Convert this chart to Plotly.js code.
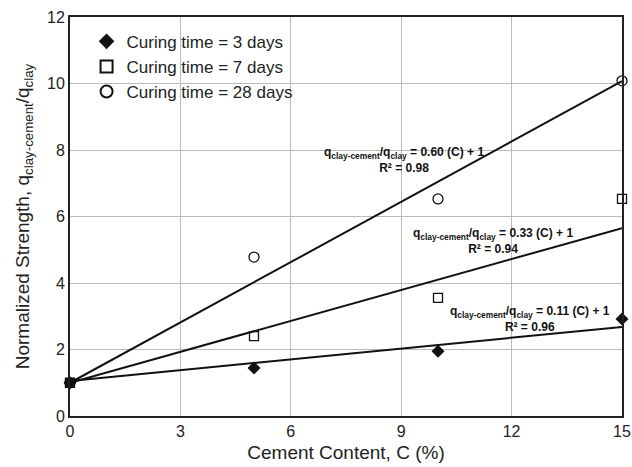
<!DOCTYPE html>
<html><head><script src="https://cdn.plot.ly/plotly-3.0.1.min.js"></script>
<style>body{margin:0;background:#fff}</style></head>
<body><div id="c" style="width:632px;height:467px"></div>
<script>
const cement = [0, 5, 10, 15];
const day3 = [1.0, 1.44, 1.95, 2.92];
const day7 = [1.0, 2.4, 3.55, 6.53];
const day28 = [1.0, 4.78, 6.53, 10.08];
const fitX = [0, 15];
const fit3 = [1.05, 2.68];
const fit7 = [1.0, 5.65];
const fit28 = [1.0, 10.07];
const xTicks = [0, 3, 6, 9, 12, 15];
const yTicks = [0, 2, 4, 6, 8, 10, 12];

const lineStyle = {color: '#111', width: 2};
const traces = [
  {x: fitX, y: fit3, mode: 'lines', line: lineStyle, showlegend: false, hoverinfo: 'skip'},
  {x: fitX, y: fit7, mode: 'lines', line: lineStyle, showlegend: false, hoverinfo: 'skip'},
  {x: fitX, y: fit28, mode: 'lines', line: lineStyle, showlegend: false, hoverinfo: 'skip'},
  {x: cement, y: day3, mode: 'markers', name: 'Curing time = 3 days', cliponaxis: false,
   marker: {symbol: 'diamond', size: 10, color: '#111'}},
  {x: cement, y: day7, mode: 'markers', name: 'Curing time = 7 days', cliponaxis: false,
   marker: {symbol: 'square-open', size: 9, color: '#111', line: {width: 1.3}}},
  {x: cement, y: day28, mode: 'markers', name: 'Curing time = 28 days', cliponaxis: false,
   marker: {symbol: 'circle-open', size: 10, color: '#111', line: {width: 1.3}}}
];

const annFont = {family: 'Liberation Sans, Arial, sans-serif', size: 12, color: '#111'};
const annotations = [
  {x: 9.08, y: 7.7, text: '<b>q<sub>clay-cement</sub>/q<sub>clay</sub> = 0.60 (C) + 1<br>R² = 0.98</b>'},
  {x: 11.49, y: 5.25, text: '<b>q<sub>clay-cement</sub>/q<sub>clay</sub> = 0.33 (C) + 1<br>R² = 0.94</b>'},
  {x: 12.5, y: 2.92, text: '<b>q<sub>clay-cement</sub>/q<sub>clay</sub> = 0.11 (C) + 1<br>R² = 0.96</b>'}
].map(a => Object.assign({xref: 'x', yref: 'y', showarrow: false, font: annFont, align: 'center'}, a));

const layout = {
  width: 632, height: 467,
  margin: {l: 70, r: 10, t: 17, b: 51},
  paper_bgcolor: '#fff', plot_bgcolor: '#fff',
  font: {family: 'Liberation Sans, Arial, sans-serif', color: '#222', size: 16},
  showlegend: true,
  legend: {x: 0.03, y: 0.983, xanchor: 'left', yanchor: 'top', bgcolor: 'rgba(0,0,0,0)',
           font: {size: 17, color: '#222'}, itemsizing: 'constant', tracegroupgap: 0},
  shapes: [{type: 'rect', xref: 'paper', yref: 'paper', x0: 0.005, x1: 0.424, y0: 0.762, y1: 0.988,
            fillcolor: '#fff', line: {width: 0}, layer: 'below'}],
  xaxis: {range: [0, 15], tickvals: xTicks, ticktext: xTicks.map(String),
          showgrid: true, gridcolor: '#bbb', gridwidth: 1,
          showline: true, linecolor: '#222', linewidth: 2, mirror: true,
          zeroline: false, ticks: '', ticklen: 0,
          title: {text: 'Cement Content, C (%)', font: {size: 19, color: '#222'}, standoff: 6},
          automargin: false},
  yaxis: {range: [0, 12], tickvals: yTicks, ticktext: yTicks.map(String),
          showgrid: true, gridcolor: '#bbb', gridwidth: 1,
          showline: true, linecolor: '#222', linewidth: 2, mirror: true,
          zeroline: false, ticks: '', ticklen: 0,
          title: {text: 'Normalized Strength, q<sub>clay-cement</sub>/q<sub>clay</sub>', font: {size: 19, color: '#222'}, standoff: 12},
          automargin: false},
  annotations: annotations
};
Plotly.newPlot('c', traces, layout, {displayModeBar: false, staticPlot: true});
</script></body></html>
